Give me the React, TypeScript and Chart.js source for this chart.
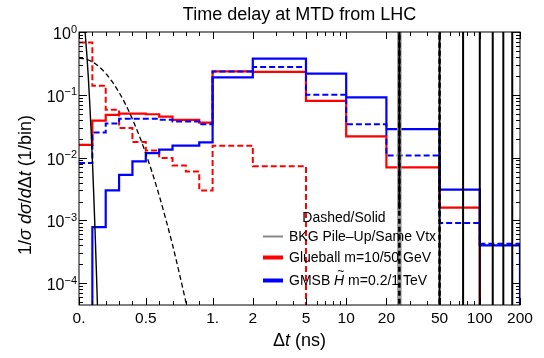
import React, { useEffect, useRef } from "react";
import { Chart, registerables } from "chart.js";
Chart.register(...registerables);

// ---------------- data ----------------
const binEdges = [0, 0.1, 0.2, 0.3, 0.4, 0.5, 0.6, 0.7, 0.8, 0.9, 1, 2, 5, 10, 20, 50, 100, 200];
// Glueball m=10 GeV (dashed red)
const glueball10 = [0.68, 0.14, 0.058, 0.0296, 0.0177, 0.013, 0.0099, 0.0075, 0.006, 0.003, 0.0155, 0.0073, 0, 0, 0, 0, 0];
// Glueball m=50 GeV (solid red)
const glueball50 = [0.016, 0.0387, 0.048, 0.05, 0.05, 0.049, 0.045, 0.04, 0.04, 0.036, 0.236, 0.232, 0.08, 0.0218, 0.007, 0.0016, 0];
// GMSB Higgsino m=0.2 TeV (dashed blue)
const gmsb02 = [0.0082, 0.025, 0.035, 0.0415, 0.0415, 0.0415, 0.04, 0.0377, 0.0377, 0.034, 0.236, 0.277, 0.1, 0.034, 0.0108, 0.00091, 0.000425];
// GMSB Higgsino m=1 TeV (solid blue)
const gmsb1 = [0, 0.00078, 0.003, 0.0053, 0.0087, 0.0118, 0.0134, 0.0155, 0.0155, 0.0175, 0.19, 0.376, 0.217, 0.091, 0.0285, 0.0031, 0.0004];

// Same-vertex background (solid black curve)
const sameVtxT = [0.03, 0.04, 0.05, 0.06, 0.07, 0.08, 0.09, 0.1, 0.11, 0.12, 0.13, 0.14];
const sameVtxY = [1.95, 1.29, 0.76, 0.4, 0.186, 0.077, 0.0285, 0.0093, 0.0027, 0.0007, 0.00016, 0.000033];
// Pile-up background (dashed black curve)
const pileUpT = [0, 0.05, 0.1, 0.15, 0.2, 0.25, 0.3, 0.35, 0.4, 0.45, 0.5, 0.55, 0.6, 0.65, 0.7, 0.75, 0.8, 0.85];
const pileUpY = [0.385, 0.371, 0.334, 0.281, 0.22, 0.16, 0.109, 0.0693, 0.041, 0.0226, 0.0116, 0.00559, 0.0025, 0.00104, 0.00041, 0.000147, 0.00005, 0.000016];
// Bunch crossing peaks
const bunchCrossings = [25, 50, 75, 100, 125, 150, 175];
const pileUpPeaks = [25, 50];
const grayPeaks = [25];

const xMajorTicks = [0, 0.5, 1, 2, 5, 10, 20, 50, 100, 200];
const xMajorLabels = ["0.", "0.5", "1.", "2", "5", "10", "20", "50", "100", "200"];
const xMinorTicks = [0.1, 0.2, 0.3, 0.4, 0.6, 0.7, 0.8, 0.9, 3, 4, 6, 7, 8, 9, 30, 40, 60, 70, 80, 90];
const yMajorExps = [0, -1, -2, -3, -4];

const FLOOR = 1e-7;
const toU = (t: number) => (t <= 1 ? t : 1 + Math.log10(t));

function histPoints(vals: number[]) {
  const pts: { x: number; y: number }[] = [];
  for (let i = 0; i < vals.length; i++) pts.push({ x: toU(binEdges[i]), y: vals[i] > 0 ? vals[i] : FLOOR });
  const last = vals[vals.length - 1];
  const xe = toU(binEdges[vals.length]);
  pts.push({ x: xe, y: last > 0 ? last : FLOOR });
  pts.push({ x: xe, y: FLOOR });
  return pts;
}

function curvePoints(ts: number[], ys: number[]) {
  return ts.map((t, i) => ({ x: toU(t), y: ys[i] }));
}

function verticalPoints(ts: number[], lo: (t: number) => number) {
  const pts: { x: number; y: number | null }[] = [];
  ts.forEach((t) => {
    pts.push({ x: toU(t), y: lo(t) }, { x: toU(t), y: 10 }, { x: toU(t), y: null });
  });
  return pts;
}

const FONT = '"Liberation Sans", Arial, Helvetica, sans-serif';

type Run = [string, boolean];
function drawRuns(ctx: CanvasRenderingContext2D, runs: Run[], x: number, y: number, size: number, align: "left" | "center") {
  let total = 0;
  const widths = runs.map(([s, it]) => {
    ctx.font = `${it ? "italic " : ""}${size}px ${FONT}`;
    const w = ctx.measureText(s).width;
    total += w;
    return w;
  });
  let cx = align === "center" ? x - total / 2 : x;
  const pos: number[] = [];
  runs.forEach(([s, it], i) => {
    ctx.font = `${it ? "italic " : ""}${size}px ${FONT}`;
    ctx.textAlign = "left";
    ctx.fillText(s, cx, y);
    pos.push(cx);
    cx += widths[i];
  });
  return { pos, widths };
}

const decorPlugin = {
  id: "decor",
  afterDraw(chart: any) {
    const { ctx, chartArea: a, scales } = chart;
    const xs = scales.x;
    const ys = scales.y;
    ctx.save();
    ctx.strokeStyle = "#000";
    ctx.fillStyle = "#000";
    ctx.lineWidth = 1;
    ctx.strokeRect(a.left, a.top, a.right - a.left, a.bottom - a.top);

    // x ticks
    const tickX = (t: number, len: number) => {
      const px = Math.round(xs.getPixelForValue(toU(t))) + 0.5;
      ctx.beginPath();
      ctx.moveTo(px, a.bottom);
      ctx.lineTo(px, a.bottom - len);
      ctx.moveTo(px, a.top);
      ctx.lineTo(px, a.top + len);
      ctx.stroke();
    };
    xMajorTicks.forEach((t) => tickX(t, 7));
    xMinorTicks.forEach((t) => tickX(t, 4));
    // y ticks
    const tickY = (v: number, len: number) => {
      const py = Math.round(ys.getPixelForValue(v)) + 0.5;
      ctx.beginPath();
      ctx.moveTo(a.left, py);
      ctx.lineTo(a.left + len, py);
      ctx.moveTo(a.right, py);
      ctx.lineTo(a.right - len, py);
      ctx.stroke();
    };
    yMajorExps.forEach((e) => tickY(Math.pow(10, e), 8));
    for (let e = -5; e <= -1; e++) {
      for (let k = 2; k <= 9; k++) {
        const v = k * Math.pow(10, e);
        if (v >= ys.min && v <= ys.max) tickY(v, 4);
      }
    }

    // x tick labels
    ctx.font = `15.5px ${FONT}`;
    ctx.textAlign = "center";
    ctx.textBaseline = "alphabetic";
    xMajorTicks.forEach((t, i) => {
      const px = xs.getPixelForValue(toU(t));
      ctx.fillText(xMajorLabels[i], px, a.bottom + 18);
    });

    // y tick labels 10^e
    yMajorExps.forEach((e) => {
      const py = ys.getPixelForValue(Math.pow(10, e));
      const sup = e === 0 ? "0" : "\u2212" + String(-e);
      ctx.font = `11px ${FONT}`;
      const sw = ctx.measureText(sup).width;
      ctx.font = `16px ${FONT}`;
      const bw = ctx.measureText("10").width;
      const right = a.left - 2;
      ctx.textAlign = "left";
      ctx.fillText("10", right - sw - bw, py + 7);
      ctx.font = `11px ${FONT}`;
      ctx.fillText(sup, right - sw, py + 0.5);
    });

    // title
    ctx.font = `18px ${FONT}`;
    ctx.textAlign = "center";
    ctx.fillText("Time delay at MTD from LHC", (a.left + a.right) / 2, 20);

    // x label
    drawRuns(ctx, [["\u0394", false], ["t", true], [" (ns)", false]], (a.left + a.right) / 2, 346, 18, "center");

    // y label
    ctx.save();
    ctx.translate(31, 185);
    ctx.rotate(-Math.PI / 2);
    drawRuns(
      ctx,
      [["1/", false], ["\u03c3", true], [" ", false], ["d", true], ["\u03c3", true], ["/", false], ["d", true], ["\u0394", false], ["t", true], [" (1/bin)", false]],
      0, 0, 18, "center"
    );
    ctx.restore();

    // legend
    ctx.font = `14px ${FONT}`;
    ctx.textAlign = "center";
    ctx.fillText("Dashed/Solid", 344, 222);
    const entries: { color: string; w: number; y: number }[] = [
      { color: "#888888", w: 2, y: 236.5 },
      { color: "#ff0000", w: 4, y: 257.5 },
      { color: "#0000ff", w: 4, y: 280.5 },
    ];
    entries.forEach((en) => {
      ctx.strokeStyle = en.color;
      ctx.lineWidth = en.w;
      ctx.beginPath();
      ctx.moveTo(263, en.y);
      ctx.lineTo(283, en.y);
      ctx.stroke();
    });
    ctx.fillStyle = "#000";
    drawRuns(ctx, [["BKG Pile\u2013Up/Same Vtx", false]], 289, 241, 14, "left");
    drawRuns(ctx, [["Glueball m=10/50 GeV", false]], 289, 262, 14, "left");
    const r = drawRuns(ctx, [["GMSB ", false], ["H", true], [" m=0.2/1 TeV", false]], 289, 285, 14, "left");
    ctx.font = `12px ${FONT}`;
    ctx.textAlign = "center";
    ctx.fillText("~", r.pos[1] + r.widths[1] / 2 + 1.5, 285 - 10);
    ctx.restore();
  },
};

export default function App() {
  const ref = useRef<HTMLCanvasElement | null>(null);
  useEffect(() => {
    if (!ref.current) return;
    const base = { pointRadius: 0, fill: false, tension: 0, spanGaps: false };
    const chart = new Chart(ref.current, {
      type: "line",
      data: {
        datasets: [
          { ...base, label: "Same Vtx", data: curvePoints(sameVtxT, sameVtxY), borderColor: "#000", borderWidth: 1.4, cubicInterpolationMode: "monotone" },
          { ...base, label: "Pile-Up", data: curvePoints(pileUpT, pileUpY), borderColor: "#000", borderWidth: 1.3, borderDash: [5, 3], cubicInterpolationMode: "monotone" },
          { ...base, label: "Same Vtx peaks", data: verticalPoints(bunchCrossings, (t) => (t === 25 ? 0.0015 : FLOOR)), borderColor: "#000", borderWidth: 2 },
          { ...base, label: "Pile-Up peaks", data: verticalPoints(pileUpPeaks, () => FLOOR), borderColor: "#000", borderWidth: 2.5, borderDash: [5, 3] },
          { ...base, label: "BKG peaks", data: verticalPoints(grayPeaks, () => FLOOR), borderColor: "#9a9a9a", borderWidth: 4.5 },
          { ...base, label: "GMSB 1 TeV", data: histPoints(gmsb1), borderColor: "#0000ff", borderWidth: 2.2, stepped: "before" },
          { ...base, label: "GMSB 0.2 TeV", data: histPoints(gmsb02), borderColor: "#0000ff", borderWidth: 2, borderDash: [6, 3], stepped: "before" },
          { ...base, label: "Glueball 50", data: histPoints(glueball50), borderColor: "#ff0000", borderWidth: 2.2, stepped: "before" },
          { ...base, label: "Glueball 10", data: histPoints(glueball10), borderColor: "#ff0000", borderWidth: 2, borderDash: [6, 3], stepped: "before" },
        ] as any,
      },
      options: {
        animation: false,
        responsive: false,
        layout: { padding: { left: 79, right: 24, top: 32, bottom: 53 } },
        scales: {
          x: { type: "linear", min: 0, max: toU(200), display: false },
          y: { type: "logarithmic", min: 4.5e-5, max: 1, display: false },
        },
        plugins: { legend: { display: false }, tooltip: { enabled: false }, title: { display: false } },
      },
      plugins: [decorPlugin],
    } as any);
    return () => chart.destroy();
  }, []);
  return (
    <div style={{ position: "fixed", left: 0, top: 0, width: 544, height: 358, background: "#fff" }}>
      <canvas ref={ref} width={544} height={358} style={{ display: "block", width: 544, height: 358 }} />
    </div>
  );
}
